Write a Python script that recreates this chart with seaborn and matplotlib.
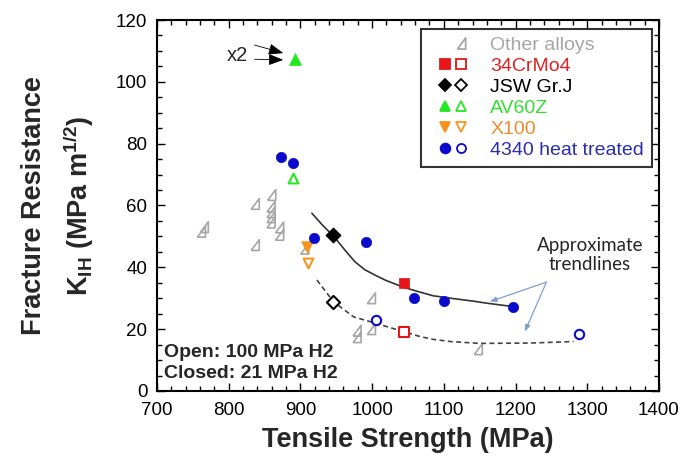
import numpy as np
import pandas as pd
import seaborn as sns
import matplotlib.pyplot as plt
from matplotlib.lines import Line2D
from matplotlib.legend_handler import HandlerTuple
from matplotlib.ticker import MultipleLocator

sns.set_style("ticks")
plt.rcParams['font.family'] = ['Liberation Sans', 'DejaVu Sans']
plt.rcParams['mathtext.fontset'] = 'custom'
plt.rcParams['mathtext.rm'] = 'Liberation Sans:bold'
plt.rcParams['mathtext.bf'] = 'Liberation Sans:bold'
plt.rcParams['mathtext.it'] = 'Liberation Sans:bold'

# data (tensile strength MPa, K_IH MPa m^1/2)
other_x = [762, 766, 837, 860, 859, 859, 859, 859, 871, 871, 837, 906, 999, 979, 979, 999, 1148]
other_y = [51.5, 53, 60.5, 63.4, 59.6, 57.8, 56.2, 54.5, 52.9, 50.5, 47.2, 46, 30, 19.5, 17.4, 20, 13.5]

crmo_closed_x, crmo_closed_y = [1045], [35.0]
crmo_open_x, crmo_open_y = [1045], [19.2]
jsw_closed_x, jsw_closed_y = [946], [50.5]
jsw_open_x, jsw_open_y = [946], [28.9]
av_closed_x, av_closed_y = [892], [107.3]
av_open_x, av_open_y = [890], [69.0]
x100_closed_x, x100_closed_y = [909], [46.7]
x100_open_x, x100_open_y = [910], [41.5]
h4340_closed_x = [873, 890, 919, 991, 1059, 1100, 1196]
h4340_closed_y = [75.7, 73.8, 49.4, 48.3, 30.0, 29.1, 27.1]
h4340_open_x = [1005, 1288]
h4340_open_y = [23.0, 18.4]

# hand drawn trendlines
trend_closed_x = [916, 931, 947, 962, 976, 990, 1004, 1018, 1032, 1046, 1065, 1085, 1113, 1140, 1160, 1190]
trend_closed_y = [57.5, 53.6, 49.9, 45.6, 41.8, 39.2, 37.5, 35.9, 34.6, 33.4, 32.1, 30.8, 29.9, 29.1, 28.4, 27.5]
trend_open_x = [923, 946, 974, 1005, 1044, 1067, 1085, 1109, 1150, 1220, 1281]
trend_open_y = [35.9, 28.9, 24.0, 21.9, 19.2, 17.6, 16.7, 16.0, 15.4, 15.5, 16.0]

gray = '#a6a6a6'
red = '#e8141a'
black = '#000000'
green = '#25e825'
orange = '#f7941d'
blue = '#0a0acc'

tri = [(-0.75, -1), (0.75, -1), (0.75, 1), (-0.75, -1)]

fig = plt.figure(figsize=(6.9, 4.62), dpi=100)
ax = fig.add_axes([0.2275, 0.1537, 0.7275, 0.803])

sns.lineplot(x=trend_closed_x, y=trend_closed_y, sort=False, estimator=None,
             color='#333333', lw=1.2, ax=ax)
sns.lineplot(x=trend_open_x, y=trend_open_y, sort=False, estimator=None,
             color='#444444', lw=1.2, ax=ax, linestyle=(0, (3, 2)))

sns.scatterplot(x=other_x, y=other_y, marker=tri, s=60, facecolor='none',
                edgecolor=gray, linewidth=1.2, ax=ax)

series = [
    (crmo_closed_x, crmo_closed_y, 's', red, True, 60),
    (crmo_open_x, crmo_open_y, 's', red, False, 55),
    (jsw_closed_x, jsw_closed_y, 'D', black, True, 60),
    (jsw_open_x, jsw_open_y, 'D', black, False, 45),
    (av_closed_x, av_closed_y, '^', green, True, 75),
    (av_open_x, av_open_y, '^', green, False, 50),
    (x100_closed_x, x100_closed_y, 'v', orange, True, 70),
    (x100_open_x, x100_open_y, 'v', orange, False, 50),
    (h4340_closed_x, h4340_closed_y, 'o', blue, True, 55),
    (h4340_open_x, h4340_open_y, 'o', blue, False, 45),
]
for sx, sy, m, c, filled, s in series:
    if filled:
        sns.scatterplot(x=sx, y=sy, marker=m, s=s, color=c, edgecolor=c,
                        linewidth=0.5, ax=ax, zorder=4)
    else:
        sns.scatterplot(x=sx, y=sy, marker=m, s=s, facecolor='white',
                        edgecolor=c, linewidth=1.5, ax=ax, zorder=4)

ax.set_xlim(700, 1400)
ax.set_ylim(0, 120)
ax.xaxis.set_major_locator(MultipleLocator(100))
ax.xaxis.set_minor_locator(MultipleLocator(20))
ax.yaxis.set_major_locator(MultipleLocator(20))
ax.yaxis.set_minor_locator(MultipleLocator(5))
ax.tick_params(which='both', direction='in', top=True, right=True,
               labelsize=13.5, width=1.0, colors='black')
ax.tick_params(axis='x', which='major', pad=8)
ax.tick_params(axis='y', which='major', pad=7)
ax.tick_params(which='major', length=6)
ax.tick_params(which='minor', length=3.5)
for sp in ax.spines.values():
    sp.set_linewidth(1.5)
    sp.set_color('black')

ax.set_xlabel('Tensile Strength (MPa)', fontsize=19.5, fontweight='bold', labelpad=6)
ax.set_ylabel('Fracture Resistance\n' + r'K$_{IH}$ (MPa m$^{1/2}$)',
              fontsize=19.5, fontweight='bold', labelpad=14, linespacing=1.55)

# x2 arrows
for y0, y1 in [(111.9, 109.3), (107.3, 107.1)]:
    ax.annotate('', xy=(876, y1), xytext=(836, y0),
                arrowprops=dict(arrowstyle='-|>,head_length=0.9,head_width=0.35',
                                color='black', lw=0.6, shrinkA=0, shrinkB=0))
ax.text(812, 108.5, 'x2', fontsize=14.5, ha='center', va='center')

# trendline callout
ax.text(1304, 44, 'Approximate\ntrendlines', fontsize=13.5, family=['Lato', 'DejaVu Sans'],
        ha='center', va='center', linespacing=1.2)
for tx, ty in [(1164, 28.9), (1213, 19.2)]:
    ax.annotate('', xy=(tx, ty), xytext=(1243, 35.2),
                arrowprops=dict(arrowstyle='-|>,head_length=0.4,head_width=0.15',
                                color='#7f9fd0', lw=0.9, shrinkA=0, shrinkB=0))

ax.text(0.013, 0.105, 'Open: 100 MPa H2', transform=ax.transAxes, fontsize=14,
        fontweight='bold', va='center')
ax.text(0.013, 0.046, 'Closed: 21 MPa H2', transform=ax.transAxes, fontsize=14,
        fontweight='bold', va='center')

# legend with filled + open marker pairs (blank slot first for left spacing)
def mk(m, c, filled, ms=7):
    if m == 'none':
        return Line2D([], [], linestyle='none', marker=None)
    return Line2D([], [], linestyle='none', marker=m, markersize=ms,
                  markerfacecolor=c if filled else 'white',
                  markeredgecolor=c, markeredgewidth=1.3)

blank = mk('none', gray, False)
handles = [
    (blank, blank, mk(tri, gray, False, 8)),
    (blank, mk('s', red, True), mk('s', red, False)),
    (blank, mk('D', black, True, 6.5), mk('D', black, False, 6)),
    (blank, mk('^', green, True), mk('^', green, False)),
    (blank, mk('v', orange, True), mk('v', orange, False)),
    (blank, mk('o', blue, True), mk('o', blue, False, 6.5)),
]
labels = ['Other alloys', '34CrMo4', 'JSW Gr.J', 'AV60Z', 'X100', '4340 heat treated']
text_colors = [gray, '#e02020', black, '#33dd33', '#f08a2c', '#2c2cb0']
leg = ax.legend(handles, labels, handler_map={tuple: HandlerTuple(ndivide=None, pad=0.7)},
                loc='upper right', bbox_to_anchor=(0.986, 0.976), borderaxespad=0,
                fontsize=14, frameon=True, fancybox=False, edgecolor='black',
                handlelength=1.76, handletextpad=1.43, labelspacing=0.17, borderpad=0.4)
leg.get_frame().set_linewidth(1.5)
for t, c in zip(leg.get_texts(), text_colors):
    t.set_color(c)

fig.savefig('out.png', dpi=100)
